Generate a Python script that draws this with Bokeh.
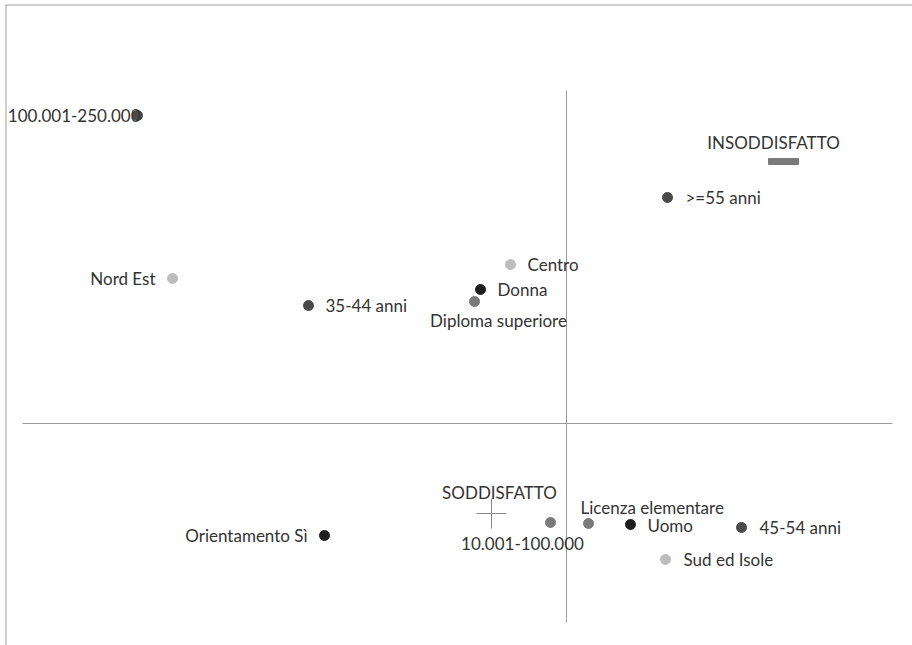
from bokeh.plotting import figure
from bokeh.models import Range1d, ColumnDataSource, Span
from bokeh.core.properties import value
from bokeh.embed import file_html
from bokeh.resources import INLINE

# --- data: correspondence analysis coordinates (dim 1, dim 2) ---
labels = ["100.001-250.000", "Nord Est", "35-44 anni", "Centro", "Donna",
          "Diploma superiore", ">=55 anni", "10.001-100.000",
          "Licenza elementare", "Uomo", "45-54 anni", "Sud ed Isole",
          "Orientamento Sì"]
dim1 = [-2.145, -1.97, -1.29, -0.28, -0.43, -0.46, 0.505, -0.08, 0.11, 0.32, 0.875, 0.495, -1.21]
dim2 = [1.54, 0.725, 0.59, 0.795, 0.67, 0.61, 1.13, -0.495, -0.50, -0.505, -0.52, -0.68, -0.56]

active_labels = ["INSODDISFATTO", "SODDISFATTO"]
active_dim1 = [1.085, -0.375]
active_dim2 = [1.31, -0.45]

axis_x_extent = [-2.72, 1.63]
axis_y_extent = [-0.995, 1.665]

# --- styles ---
BLACK, DARK, MID, LIGHT = "#1e1e1e", "#4a4a4a", "#7a7a7a", "#bdbdbd"
colors = [DARK, LIGHT, DARK, LIGHT, BLACK, MID, DARK, MID, MID, BLACK, DARK, LIGHT, BLACK]
align = ["right", "right", "left", "left", "left", "center", "left", "center",
         "left", "left", "left", "left", "right"]
xoff = [3, -17, 17, 17, 17, 24, 18, -28, -8, 17, 18, 18, -17]
yoff = [0, 0, 0, 0, 0, 19, 0, 21, -16, 1, 0, 0, 0]

FONT = value("Lato")
FS = "17px"

xr = Range1d(-2.805, 1.73)
yr = Range1d(-1.11, 2.095)
p = figure(width=912, height=645, output_backend="svg", toolbar_location=None,
           x_range=xr, y_range=yr,
           min_border_left=5, min_border_top=4, min_border_right=0, min_border_bottom=0,
           background_fill_color="white")
p.axis.visible = False
p.grid.visible = False
p.outline_line_color = None

# picture frame (top and left edges)
p.add_layout(Span(location=xr.start, dimension="height", line_color="#a0a0a0", line_width=2))
p.add_layout(Span(location=yr.end, dimension="width", line_color="#a0a0a0", line_width=2))

# map axes
p.line(axis_x_extent, [0, 0], line_color="#9a9a9a", line_width=1)
p.line([0, 0], axis_y_extent, line_color="#9a9a9a", line_width=1)

src = ColumnDataSource(dict(x=dim1, y=dim2, label=labels, color=colors,
                            align=align, xoff=xoff, yoff=yoff))
p.scatter("x", "y", source=src, size=10, fill_color="color", line_color="color")
p.text("x", "y", text="label", source=src, x_offset="xoff", y_offset="yoff",
       text_align="align", text_baseline="middle", text_font=FONT,
       text_font_size=FS, text_color="#333333")

# active categories
p.rect([active_dim1[0]], [active_dim2[0]], width=30, height=6, width_units="screen",
       height_units="screen", fill_color="#7a7a7a", line_color="#7a7a7a")
p.scatter([active_dim1[1]], [active_dim2[1]], marker="cross", size=30,
          line_color="#8a8a8a", line_width=1)
asrc = ColumnDataSource(dict(x=active_dim1, y=active_dim2, label=active_labels,
                             xoff=[-10, 8], yoff=[-19, -21]))
p.text("x", "y", text="label", source=asrc, x_offset="xoff", y_offset="yoff",
       text_align="center", text_baseline="middle", text_font=FONT,
       text_font_size=FS, text_color="#333333")

open("out.html", "w").write(file_html(p, INLINE))
